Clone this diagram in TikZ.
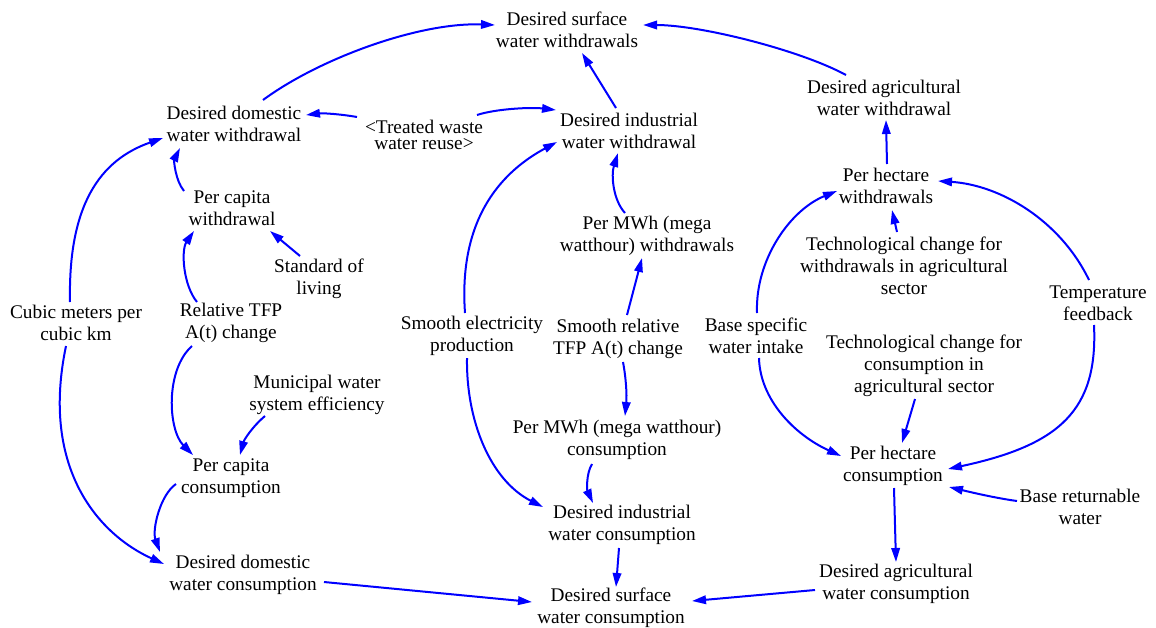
\documentclass[tikz,border=0pt]{standalone}
\usepackage{fontspec}
\setmainfont{Liberation Serif}
\usetikzlibrary{arrows.meta,calc}
\definecolor{linkblue}{RGB}{0,0,255}
\tikzset{
  var/.style={align=center,inner sep=0pt,font=\fontsize{19.3}{22}\selectfont},
  shadowvar/.style={align=center,inner sep=0pt,font=\fontsize{19.3}{16.5}\selectfont},
  link/.style={draw=linkblue,line width=2pt,-{Triangle[length=14pt,width=8.5pt]},fill=none}
}
\begin{document}
\begin{tikzpicture}[x=1pt,y=-1pt]
\useasboundingbox (0,0) rectangle (1156,627);

% variables
\node[var] (dsww)  at (567,30)   {Desired surface\\water withdrawals};
\node[var] (ddww)  at (234,124)  {Desired domestic\\water withdrawal};
\node[shadowvar] (tww) at (424,135) {<Treated waste\\water reuse>};
\node[var] (diww)  at (629,131)  {Desired industrial\\water withdrawal};
\node[var] (daww)  at (884,98)   {Desired agricultural\\water withdrawal};
\node[var] (pcw)   at (232,208)  {Per capita\\withdrawal};
\node[var] (sol)   at (319,279)  {Standard of\\living};
\node[var] (cmk)   at (76,323)   {Cubic meters per\\cubic km};
\node[var] (rtfp)  at (231,323)  {Relative TFP\\A(t) change};
\node[var] (mwse)  at (317,395)  {Municipal water\\system efficiency};
\node[var] (pcc)   at (231,478)  {Per capita\\consumption};
\node[var] (ddwc)  at (243,575)  {Desired domestic\\water consumption};
\node[var] (dswc)  at (611,608)  {Desired surface\\water consumption};
\node[var] (diwc)  at (622,525)  {Desired industrial\\water consumption};
\node[var] (pmc)   at (617,440)  {Per MWh (mega watthour)\\consumption};
\node[var] (sep)   at (472,336)  {Smooth electricity\\production};
\node[var] (srtfp) at (618,339)  {Smooth relative\\TFP A(t) change};
\node[var] (pmw)   at (647,236)  {Per MWh (mega\\watthour) withdrawals};
\node[var] (phw)   at (886,186)  {Per hectare\\withdrawals};
\node[var] (tcw)   at (904,266)  {Technological change for\\withdrawals in agricultural\\sector};
\node[var] (tf)    at (1098,303) {Temperature\\feedback};
\node[var] (bswi)  at (756,336)  {Base specific\\water intake};
\node[var] (tcc)   at (924,366)  {Technological change for\\consumption in\\agricultural sector};
\node[var] (phc)   at (893,466)  {Per hectare\\consumption};
\node[var] (brw)   at (1080,507) {Base returnable\\water};
\node[var] (dawc)  at (896,584)  {Desired agricultural\\water consumption};

% withdrawal side
\draw[link] ($(ddww)+(29,-24)$) .. controls (320,58) and (420,22) .. ($(dsww)+(-72,-5)$);
\draw[link] ($(daww)+(-38,-23)$) .. controls (800,50) and (700,25) .. ($(dsww)+(76,-5)$);
\draw[link] ($(tww)+(-67,-18)$) .. controls (340,114) and (322,113) .. ($(ddww)+(72,-9)$);
\draw[link] ($(tww)+(53,-20)$) .. controls (495,109) and (530,107) .. ($(diww)+(-73,-21)$);
\draw[link] ($(diww)+(-13,-23)$) -- ($(dsww)+(15,23)$);
\draw[link] ($(cmk)+(-6,-21)$) .. controls (68,205) and (100,160) .. ($(ddww)+(-71,14)$);
\draw[link] ($(pcw)+(-48,-17)$) .. controls (175,180) and (174,160) .. ($(ddww)+(-54,24)$);
\draw[link] ($(rtfp)+(-34,-21)$) .. controls (183,285) and (181,250) .. ($(pcw)+(-38,23)$);
\draw[link] ($(sol)+(-19,-23)$) -- ($(pcw)+(38,23)$);
\draw[link] ($(sep)+(-7,-23)$) .. controls (458,215) and (505,170) .. ($(diww)+(-72,11)$);
\draw[link] ($(srtfp)+(9,-24)$) -- ($(pmw)+(-5,22)$);
\draw[link] ($(pmw)+(-22,-23)$) .. controls (613,200) and (611,175) .. ($(diww)+(-11,22)$);
\draw[link] ($(phw)+(1,-22)$) -- ($(daww)+(2,22)$);
\draw[link] ($(bswi)+(1,-23)$) .. controls (755,260) and (790,210) .. ($(phw)+(-49,5)$);
\draw[link] ($(tf)+(-9,-23)$) .. controls (1060,220) and (1000,185) .. ($(phw)+(52,-5)$);
\draw[link] ($(tcw)+(-7,-34)$) -- ($(phw)+(6,24)$);

% consumption side
\draw[link] ($(cmk)+(-10,23)$) .. controls (40,470) and (100,535) .. ($(ddwc)+(-79,-11)$);
\draw[link] ($(rtfp)+(-39,23)$) .. controls (165,370) and (168,430) .. ($(pcc)+(-38,-23)$);
\draw[link] ($(mwse)+(-52,21)$) .. controls (252,427) and (244,440) .. ($(pcc)+(9,-23)$);
\draw[link] ($(pcc)+(-55,6)$) .. controls (160,495) and (152,530) .. ($(ddwc)+(-83,-23)$);
\draw[link] ($(ddwc)+(81,7)$) -- ($(dswc)+(-79,-6)$);
\draw[link] ($(dawc)+(-81,6)$) -- ($(dswc)+(81,-7)$);
\draw[link] ($(diwc)+(-3,23)$) -- ($(dswc)+(5,-21)$);
\draw[link] ($(pmc)+(-25,24)$) .. controls (586,474) and (587,490) .. ($(diwc)+(-29,-22)$);
\draw[link] ($(srtfp)+(5,23)$) .. controls (626,378) and (627,395) .. ($(pmc)+(8,-24)$);
\draw[link] ($(sep)+(-5,22)$) .. controls (466,420) and (490,480) .. ($(diwc)+(-79,-18)$);
\draw[link] ($(bswi)+(3,22)$) .. controls (760,400) and (795,435) .. ($(phc)+(-52,-10)$);
\draw[link] ($(tcc)+(-9,33)$) -- ($(phc)+(9,-23)$);
\draw[link] ($(tf)+(-4,22)$) .. controls (1098,410) and (1060,445) .. ($(phc)+(55,3)$);
\draw[link] ($(brw)+(-63,-6)$) .. controls (995,498) and (970,492) .. ($(phc)+(56,21)$);
\draw[link] ($(phc)+(1,22)$) -- ($(dawc)+(0,-22)$);
\end{tikzpicture}
\end{document}
